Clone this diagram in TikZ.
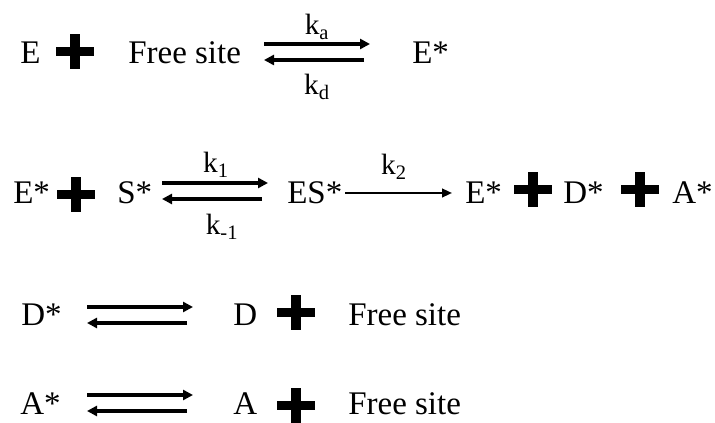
\documentclass[tikz,border=0pt]{standalone}
\usepackage{fontspec}
\setmainfont{Liberation Serif}
\usetikzlibrary{arrows.meta,positioning}

\tikzset{
  species/.style={inner sep=0pt, anchor=base west, font=\fontsize{24.75}{30}\selectfont},
  rate/.style={inner sep=0pt, anchor=base, font=\fontsize{22}{26}\selectfont},
  fwd/.style={-{Triangle[length=7.5pt,width=7.5pt]}, line width=2.6pt},
  onestep/.style={-{Triangle[length=7.5pt,width=6.5pt]}, line width=1.6pt},
  plussign/.pic={
    \fill (-19,-4.5) rectangle (19,4.5);
    \fill (-5,-17.5) rectangle (5,17.5);
  }
}

\begin{document}
\begin{tikzpicture}[x=0.75pt, y=-0.75pt]
  \useasboundingbox (0,0) rectangle (715,423);

  % E adsorbs on a free site
  \node[species] (e1) at (20,64) {E};
  \pic at (75,52) {plussign};
  \node[species] (fs1) at (128,64) {Free site};
  \node[species] (es1) at (412,64) {E*};
  \node[rate] (ka) at (317,35) {k\textsubscript{a}};
  \node[rate] (kd) at (317,95) {k\textsubscript{d}};

  % surface reaction
  \node[species] (e2) at (13,204) {E*};
  \pic at (76,195) {plussign};
  \node[species] (s2) at (117,204) {S*};
  \node[species] (es2) at (287,204) {ES*};
  \node[species] (eb2) at (465,204) {E*};
  \pic at (533,190) {plussign};
  \node[species] (d2) at (563,204) {D*};
  \pic at (640,190) {plussign};
  \node[species] (a2) at (672,204) {A*};
  \node[rate] (k1) at (216,173) {k\textsubscript{1}};
  \node[rate] (km1) at (222,235) {k\textsubscript{-1}};
  \node[rate] (k2) at (394,175) {k\textsubscript{2}};
  \coordinate (k2l) at (345,193);
  \coordinate (k2r) at (452,193);
  \draw[onestep] (k2l) -- (k2r);

  % desorption of D* and A*
  \node[species] (d3) at (21,326) {D*};
  \node[species] (dd3) at (233,326) {D};
  \pic at (296,313) {plussign};
  \node[species] (fs3) at (348,326) {Free site};
  \node[species] (a4) at (20,415) {A*};
  \node[species] (aa4) at (233,415) {A};
  \pic at (296,406) {plussign};
  \node[species] (fs4) at (348,415) {Free site};

  % equilibrium arrows
  \foreach \n/\xl/\xr/\ym in {1/264/370/52, 2/162/268/191, 3/87/193/315, 4/87/193/403} {
    \coordinate (eq\n l) at (\xl,\ym);
    \coordinate (eq\n r) at (\xr,\ym);
    \draw[fwd] ([yshift=6pt]eq\n l) -- ([yshift=6pt]eq\n r);
    \draw[fwd] ([shift={(-4.5pt,-6pt)}]eq\n r) -- ([yshift=-6pt]eq\n l);
  }
\end{tikzpicture}
\end{document}
